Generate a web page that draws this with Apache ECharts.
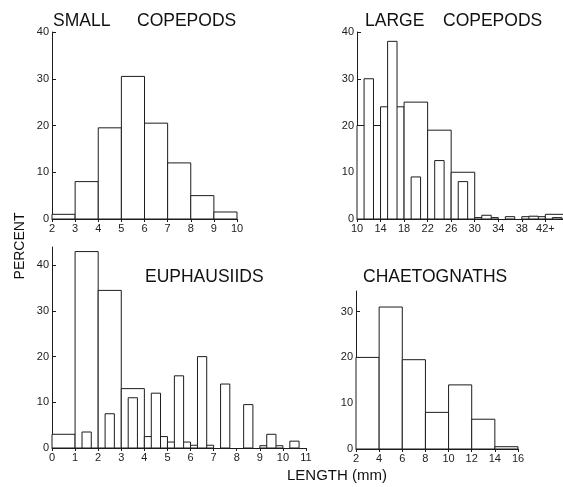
<!DOCTYPE html>
<html>
<head>
<meta charset="utf-8">
<script src="https://cdn.jsdelivr.net/npm/echarts@6/dist/echarts.min.js"></script>
<style>
html,body{margin:0;padding:0;background:#fff;}
#c{width:563px;height:487px;}
</style>
</head>
<body>
<div id="c"></div>
<script>
// ---- data (percent by length class, mm) ----
const smallBins = [2, 3, 4, 5, 6, 7, 8, 9];
const smallBinWidth = 1;
const smallPct = [1, 8, 19.5, 30.5, 20.5, 12, 5, 1.5];

const largeBins = [10, 14, 18, 22, 26, 30, 34, 38, 42];
const largeBinWidth = 4;
const largeWidePct = [20, 24, 25, 19, 10, 0.3, 0, 0.5, 1];
const largeNarrowPct = [30, 38, 9, 12.5, 8, 0.8, 0.5, 0.6, 0.3];

const euphBins = [0, 1, 2, 3, 4, 5, 6, 7, 8, 9, 10];
const euphBinWidth = 1;
const euphWidePct = [3, 43, 34.5, 13, 2.5, 1.3, 0.6, 0, 0, 0.5, 0];
const euphNarrowPct = [0, 3.5, 7.5, 11, 12, 15.8, 20, 14, 9.5, 3, 1.5];

const chaetBins = [2, 4, 6, 8, 10, 12, 14];
const chaetBinWidth = 2;
const chaetPct = [20, 31, 19.5, 8, 14, 6.5, 0.5];

// tick labels
const smallXTicks = [2, 3, 4, 5, 6, 7, 8, 9, 10];
const largeXTicks = [10, 14, 18, 22, 26, 30, 34, 38, 42];
const largeXLabels = ['10', '14', '18', '22', '26', '30', '34', '38', '42+'];
const euphXTicks = [0, 1, 2, 3, 4, 5, 6, 7, 8, 9, 10, 11];
const chaetXTicks = [2, 4, 6, 8, 10, 12, 14, 16];
const yTicks40 = [0, 10, 20, 30, 40];
const yTicks30 = [0, 10, 20, 30];

const titles = [
  {words: ['SMALL', 'COPEPODS'], x: [53, 137], y: 21},
  {words: ['LARGE', 'COPEPODS'], x: [365, 443], y: 21},
  {words: ['EUPHAUSIIDS'], x: [145], y: 277},
  {words: ['CHAETOGNATHS'], x: [363], y: 277}
];

// ---- helpers ----
const INK = '#1c1c1c';
const FONT = '"Liberation Sans", Arial, sans-serif';

function wide(bins, w, vals) {
  return bins.map((b, i) => [b, b + w, vals[i]]);
}
function narrow(bins, w, vals) {
  return bins.map((b, i) => [b + w * 0.3, b + w * 0.7, vals[i]]);
}
function renderBar(params, api) {
  const v = api.value(2);
  if (!(v > 0)) return null;
  const p0 = api.coord([api.value(0), v]);
  const p1 = api.coord([api.value(1), 0]);
  return {
    type: 'rect',
    shape: {x: p0[0], y: p0[1], width: p1[0] - p0[0], height: p1[1] - p0[1]},
    style: {fill: '#fff', stroke: INK, lineWidth: 1}
  };
}
function xAxis(idx, min, max, ticks, labels) {
  return {
    type: 'value', gridIndex: idx, min: min, max: max,
    axisLine: {show: true, lineStyle: {color: INK, width: 1}},
    axisTick: {show: true, inside: false, length: 3, customValues: ticks, lineStyle: {color: INK}},
    axisLabel: {
      show: true, customValues: ticks, margin: 4,
      color: '#222', fontSize: 11, fontFamily: FONT,
      formatter: function (v) {
        if (labels) { const k = ticks.indexOf(v); return k >= 0 ? labels[k] : ''; }
        return String(v);
      }
    },
    splitLine: {show: false}
  };
}
function yAxis(idx, max, ticks) {
  return {
    type: 'value', gridIndex: idx, min: 0, max: max,
    axisLine: {show: true, lineStyle: {color: INK, width: 1}},
    axisTick: {show: true, inside: true, length: 4, customValues: ticks, lineStyle: {color: INK}},
    axisLabel: {show: true, customValues: ticks, margin: 3, color: '#222', fontSize: 11, fontFamily: FONT},
    splitLine: {show: false}
  };
}
function series(idx, data, z) {
  return {
    type: 'custom', xAxisIndex: idx, yAxisIndex: idx, z: z,
    renderItem: renderBar, data: data, silent: true, animation: false
  };
}

const graphics = [];
titles.forEach(t => {
  t.words.forEach((w, i) => {
    graphics.push({
      type: 'text', x: t.x[i], y: t.y,
      style: {text: w, font: '17.5px ' + FONT, fill: '#111',
              textAlign: 'left', align: 'left', textVerticalAlign: 'middle', verticalAlign: 'middle'}
    });
  });
});
graphics.push({
  type: 'text', x: 20, y: 246, rotation: Math.PI / 2,
  style: {text: 'PERCENT', font: '14px ' + FONT, fill: '#111',
          textAlign: 'center', align: 'center', textVerticalAlign: 'middle', verticalAlign: 'middle'}
});
graphics.push({
  type: 'text', x: 287, y: 476,
  style: {text: 'LENGTH (mm)', font: '15px ' + FONT, fill: '#111',
          textAlign: 'left', align: 'left', textVerticalAlign: 'middle', verticalAlign: 'middle'}
});

const chart = echarts.init(document.getElementById('c'), null, {renderer: 'canvas'});
chart.setOption({
  animation: false,
  backgroundColor: '#fff',
  grid: [
    {left: 52, top: 32, width: 185, height: 187},
    {left: 357, top: 32, width: 208, height: 187},
    {left: 52, top: 247, width: 254, height: 201},
    {left: 356, top: 291, width: 162, height: 158}
  ],
  xAxis: [
    xAxis(0, 2, 10, smallXTicks),
    xAxis(1, 10, 45, largeXTicks, largeXLabels),
    xAxis(2, 0, 11, euphXTicks),
    xAxis(3, 2, 16, chaetXTicks)
  ],
  yAxis: [
    yAxis(0, 40, yTicks40),
    yAxis(1, 40, yTicks40),
    yAxis(2, 44, yTicks40),
    yAxis(3, 34.5, yTicks30)
  ],
  series: [
    series(0, wide(smallBins, smallBinWidth, smallPct), 2),
    series(1, wide(largeBins, largeBinWidth, largeWidePct), 2),
    series(1, narrow(largeBins, largeBinWidth, largeNarrowPct), 3),
    series(2, wide(euphBins, euphBinWidth, euphWidePct), 2),
    series(2, narrow(euphBins, euphBinWidth, euphNarrowPct), 3),
    series(3, wide(chaetBins, chaetBinWidth, chaetPct), 2)
  ],
  graphic: graphics
});
</script>
</body>
</html>
